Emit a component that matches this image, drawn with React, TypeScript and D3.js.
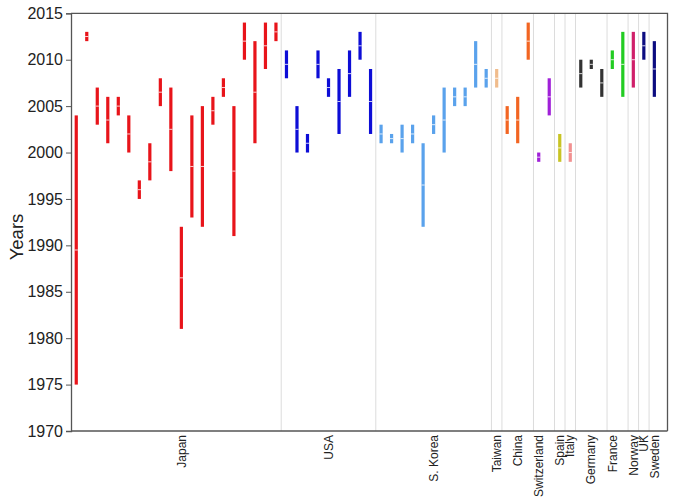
import * as d3 from "d3";
import { useEffect, useRef } from "react";

// country groups, in axis order
const countries = ["Japan", "USA", "S. Korea", "Taiwan", "China", "Switzerland", "Spain", "Italy", "Germany", "France", "Norway", "UK", "Sweden"];
const groupSizes = [20, 9, 11, 1, 3, 2, 1, 1, 3, 2, 1, 1, 1];
const groupColors = ["#e8141a", "#0d0dd6", "#5aa2ec", "#f0bc8c", "#f26522", "#a020d8", "#c8c424", "#f29090", "#333333", "#22cc22", "#d0206a", "#0c0c80", "#0c0c80"];

// one entry per bar, groups follow each other
const startYears = [
  1975, 2012, 2003, 2001, 2004, 2000, 1995, 1997, 2005, 1998, 1981, 1993, 1992, 2003, 2006, 1991, 2010, 2001, 2009, 2012,
  2008, 2000, 2000, 2008, 2006, 2002, 2006, 2010, 2002,
  2001, 2001, 2000, 2001, 1992, 2002, 2000, 2005, 2005, 2007, 2007,
  2007,
  2002, 2001, 2010,
  1999, 2004,
  1999,
  1999,
  2007, 2009, 2006,
  2009, 2006,
  2007,
  2010,
  2006,
];
const endYears = [
  2004, 2013, 2007, 2006, 2006, 2004, 1997, 2001, 2008, 2007, 1992, 2004, 2005, 2006, 2008, 2005, 2014, 2012, 2014, 2014,
  2011, 2005, 2002, 2011, 2008, 2009, 2011, 2013, 2009,
  2003, 2002, 2003, 2003, 2001, 2004, 2007, 2007, 2007, 2012, 2009,
  2009,
  2005, 2006, 2014,
  2000, 2008,
  2002,
  2001,
  2010, 2010, 2009,
  2011, 2013,
  2013,
  2013,
  2012,
];
const yTicks = [1970, 1975, 1980, 1985, 1990, 1995, 2000, 2005, 2010, 2015];

const W = 675;
const H = 498;
const FONT = "'Liberation Sans', Arial, Helvetica, sans-serif";

const App = () => {
  const ref = useRef<SVGSVGElement>(null);

  useEffect(() => {
    const svg = d3.select(ref.current);
    svg.selectAll("*").remove();

    const margin = { top: 13.3, left: 71, bottom: 431, right: 667.5 };

    const groupOf: number[] = [];
    groupSizes.forEach((n, g) => { for (let i = 0; i < n; i++) groupOf.push(g); });
    const bars = startYears.map((s, i) => ({ i, start: s, end: endYears[i], group: groupOf[i] }));

    const x = d3.scaleBand<number>()
      .domain(bars.map(d => d.i))
      .range([margin.left, 659.6]);

    const y = d3.scaleLinear()
      .domain([1970, 2015])
      .range([margin.bottom, margin.top]);

    const bw = x.bandwidth();

    // group separators
    let idx = 0;
    const firsts: number[] = [];
    groupSizes.forEach(n => { firsts.push(idx); idx += n; });
    svg.append("g")
      .selectAll("line")
      .data(firsts.slice(1))
      .enter()
      .append("line")
      .attr("x1", d => x(d)!)
      .attr("x2", d => x(d)!)
      .attr("y1", margin.top)
      .attr("y2", margin.bottom)
      .attr("stroke", "#dcdcdc")
      .attr("stroke-width", 1);

    // frame: top and right
    svg.append("path")
      .attr("d", `M${margin.left},${margin.top}H${margin.right}V${margin.bottom}`)
      .attr("fill", "none")
      .attr("stroke", "#555")
      .attr("stroke-width", 1.3);

    // bottom axis line
    svg.append("line")
      .attr("x1", margin.left).attr("x2", margin.right)
      .attr("y1", margin.bottom).attr("y2", margin.bottom)
      .attr("stroke", "#555").attr("stroke-width", 1.3);

    // y axis
    const yAxis = d3.axisLeft(y).tickValues(yTicks).tickFormat(d3.format("d")).tickSize(5).tickPadding(3);
    const ya = svg.append("g")
      .attr("transform", `translate(${margin.left},0)`)
      .call(yAxis);
    ya.select(".domain").attr("stroke", "#555").attr("stroke-width", 1.3);
    ya.selectAll(".tick line").attr("stroke", "#555");
    ya.selectAll("text")
      .attr("font-family", FONT)
      .attr("font-size", 16)
      .attr("fill", "#222");

    svg.append("text")
      .attr("transform", `translate(23,237) rotate(-90)`)
      .attr("text-anchor", "middle")
      .attr("font-family", FONT)
      .attr("font-size", 18.5)
      .attr("fill", "#222")
      .text("Years");

    // bars
    const barW = 3.2;
    svg.append("g")
      .selectAll("rect")
      .data(bars)
      .enter()
      .append("rect")
      .attr("x", d => x(d.i)! + bw / 2 - barW / 2)
      .attr("y", d => y(d.end))
      .attr("width", barW)
      .attr("height", d => y(d.start) - y(d.end))
      .attr("fill", d => groupColors[d.group]);

    // midpoint marks
    svg.append("g")
      .selectAll("line")
      .data(bars)
      .enter()
      .append("line")
      .attr("x1", d => x(d.i)! + bw / 2 - barW / 2)
      .attr("x2", d => x(d.i)! + bw / 2 + barW / 2)
      .attr("y1", d => y((d.start + d.end) / 2))
      .attr("y2", d => y((d.start + d.end) / 2))
      .attr("stroke", "#fff")
      .attr("stroke-width", 0.8);

    // group labels
    svg.append("g")
      .selectAll("text")
      .data(countries)
      .enter()
      .append("text")
      .attr("transform", (d, g) => {
        const n = groupSizes[g];
        const k = firsts[g] + (n > 2 ? Math.floor(n / 2) : 0);
        return `translate(${x(k)! + bw / 2},435) rotate(-90)`;
      })
      .attr("dy", "0.35em")
      .attr("text-anchor", "end")
      .attr("font-family", FONT)
      .attr("font-size", 12)
      .attr("fill", "#222")
      .text(d => d);
  }, []);

  return (
    <div style={{ position: "absolute", left: 0, top: 0 }}>
      <svg ref={ref} width={W} height={H} style={{ display: "block", background: "#fff" }}></svg>
    </div>
  );
};

export default App;
